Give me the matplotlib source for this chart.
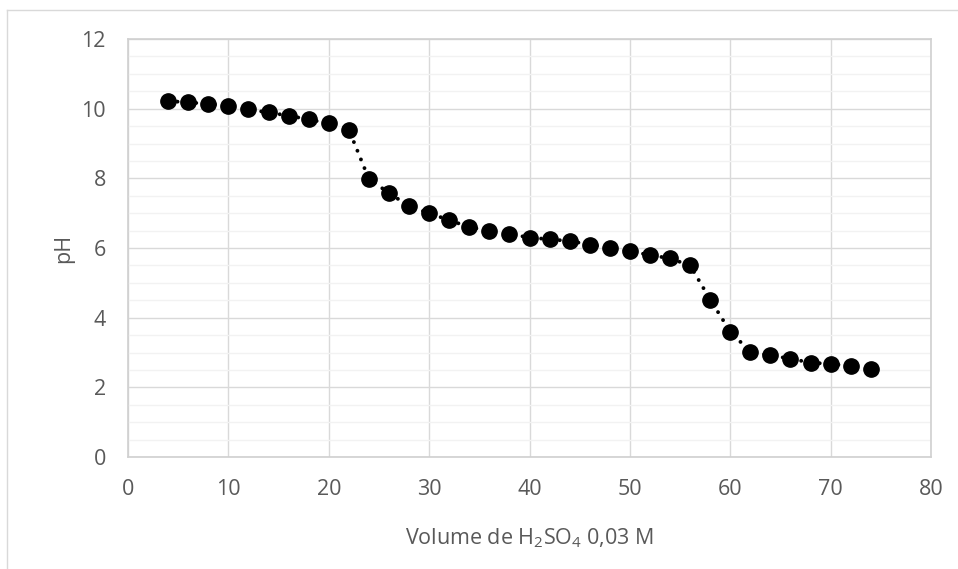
import matplotlib
matplotlib.use("Agg")
import matplotlib.pyplot as plt
from matplotlib.lines import Line2D
from matplotlib.ticker import MultipleLocator

# titration data: volume of H2SO4 (mL) vs pH
volume = [4, 6, 8, 10, 12, 14, 16, 18, 20, 22, 24, 26, 28, 30, 32, 34, 36, 38,
          40, 42, 44, 46, 48, 50, 52, 54, 56, 58, 60, 62, 64, 66, 68, 70, 72, 74]
ph = [10.22, 10.18, 10.14, 10.08, 9.98, 9.89, 9.8, 9.69, 9.58, 9.4, 7.98, 7.58,
      7.2, 7.0, 6.8, 6.6, 6.5, 6.4, 6.3, 6.25, 6.2, 6.1, 6.0, 5.9, 5.8, 5.7,
      5.5, 4.52, 3.6, 3.02, 2.92, 2.82, 2.71, 2.67, 2.62, 2.52]

x_ticks = [0, 10, 20, 30, 40, 50, 60, 70, 80]
y_ticks = [0, 2, 4, 6, 8, 10, 12]

plt.rcParams['font.family'] = ['Open Sans', 'DejaVu Sans']
plt.rcParams['mathtext.default'] = 'regular'

W, H = 958, 569
fig = plt.figure(figsize=(W / 100, H / 100), dpi=100)
ax = fig.add_axes([128 / W, (H - 457) / H, (931 - 128) / W, (457 - 39) / H])

# chart outer border (only left/top visible in the crop)
fig.add_artist(Line2D([7 / W, 7 / W], [0, 1 - 10 / H], color='#D9D9D9', lw=1.0))
fig.add_artist(Line2D([7 / W, 1], [1 - 10 / H, 1 - 10 / H], color='#D9D9D9', lw=1.0))

ax.plot(volume, ph, color='black', lw=2.8, linestyle=(0, (0.01, 2.4)),
        dash_capstyle='round', zorder=3)
ax.plot(volume, ph, 'o', color='black', markersize=11, zorder=4)

ax.set_xlim(0, 80)
ax.set_ylim(0, 12)
ax.set_xticks(x_ticks)
ax.set_yticks(y_ticks)
ax.yaxis.set_minor_locator(MultipleLocator(0.5))
ax.grid(which='major', color='#D9D9D9', lw=1.0)
ax.grid(which='minor', axis='y', color='#F2F2F2', lw=1.0)
ax.set_axisbelow(True)

for s in ax.spines.values():
    s.set_color('#D0D0D0')
    s.set_linewidth(1.2)

ax.tick_params(which='both', length=0, labelsize=15.5, labelcolor='#595959')
ax.tick_params(axis='x', pad=16)
ax.tick_params(axis='y', pad=16)

ax.set_xlabel('Volume de H$_2$SO$_4$ 0,03 M', fontsize=15.5, color='#595959', labelpad=19)
ax.set_ylabel('pH', fontsize=15.5, color='#595959', labelpad=5)

fig.savefig('out.png', dpi=100)
